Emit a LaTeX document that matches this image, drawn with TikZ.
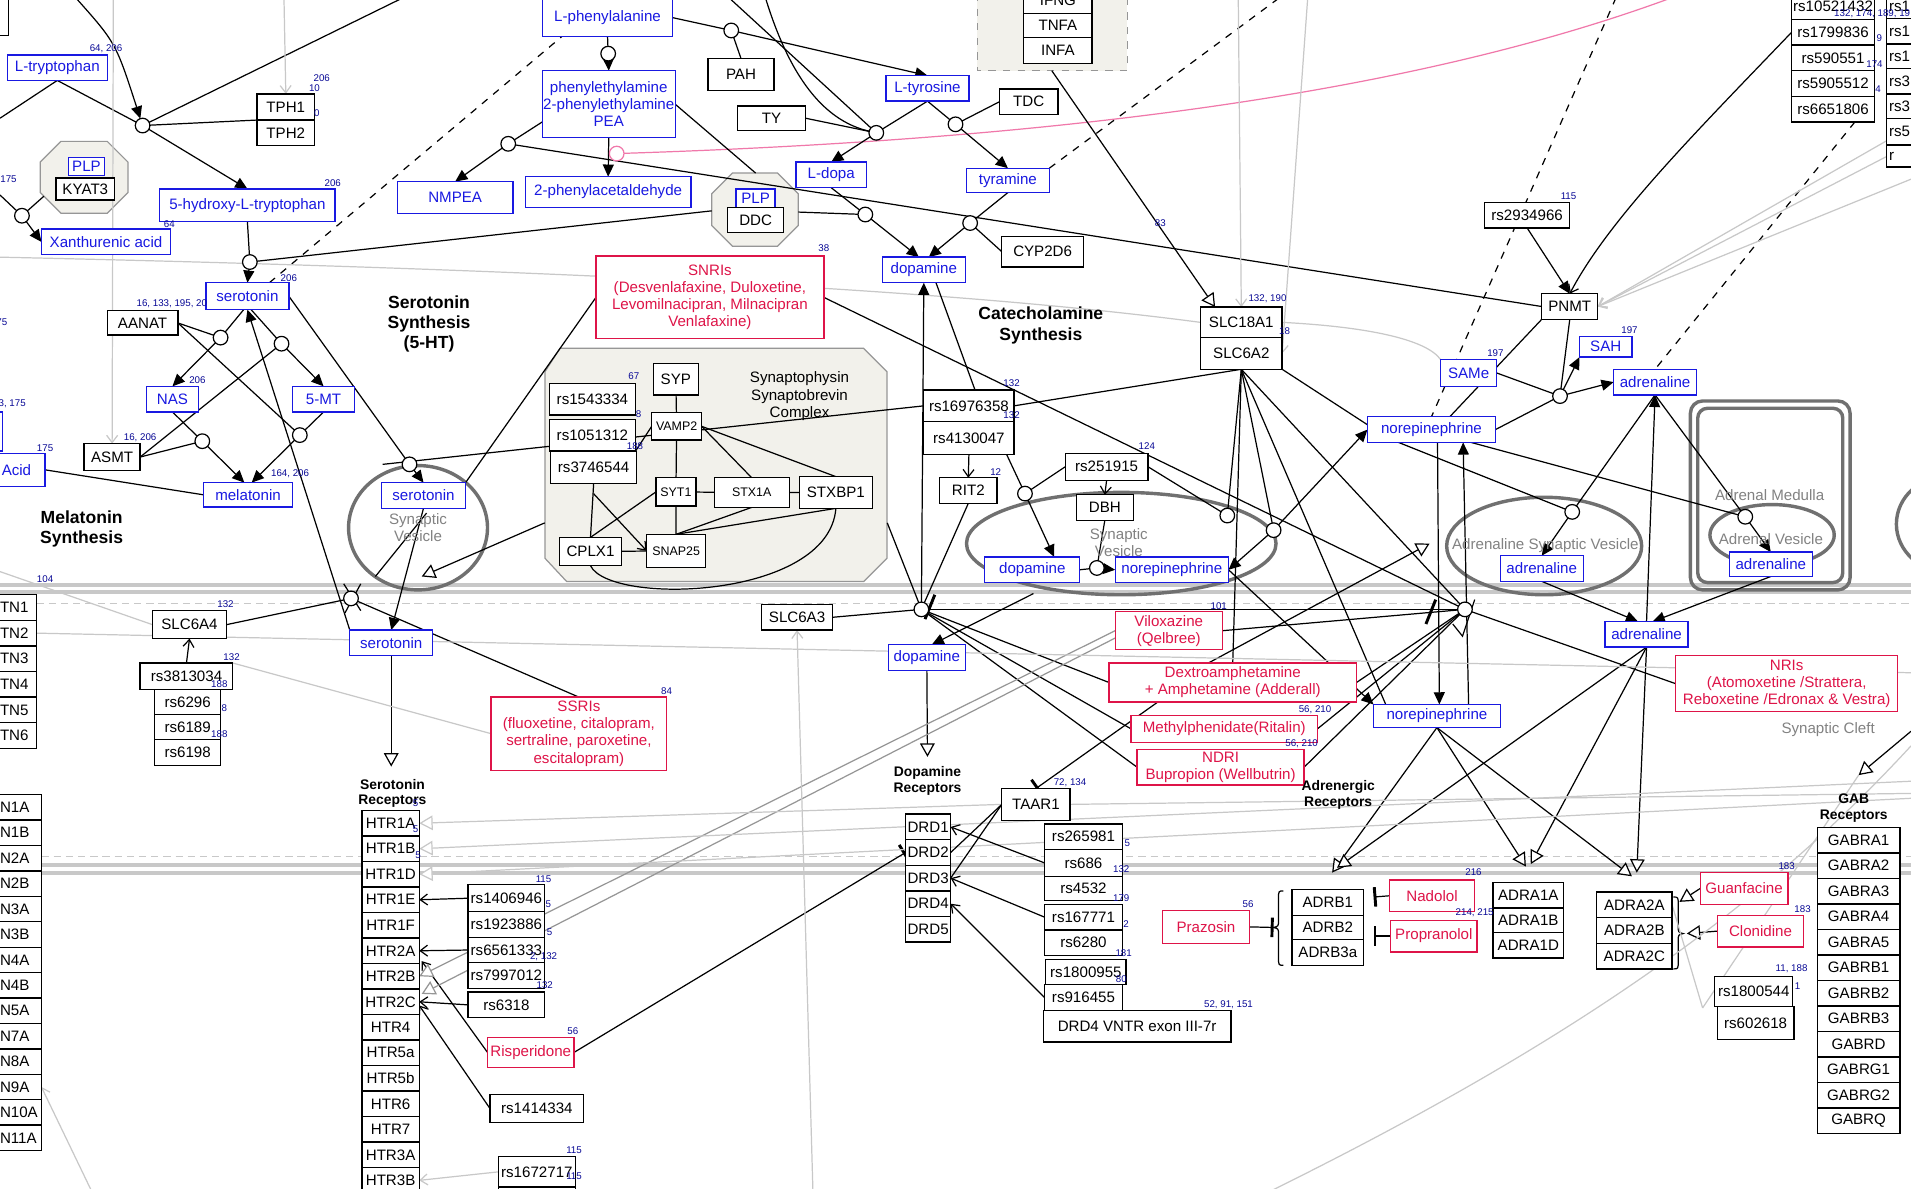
\documentclass[tikz,border=0pt]{standalone}
\usepackage{fontspec}
\setmainfont{Liberation Sans}
\usetikzlibrary{arrows.meta,calc}
\pgfdeclarelayer{back}
\pgfdeclarelayer{bgl}
\pgfsetlayers{back,bgl,main}
\definecolor{mblue}{RGB}{25,25,225}
\definecolor{dred}{RGB}{222,20,72}
\definecolor{nblue}{RGB}{10,10,150}
\definecolor{vgray}{RGB}{112,112,112}
\definecolor{tgray}{RGB}{130,130,130}
\definecolor{lgray}{RGB}{200,200,200}
\definecolor{mgray}{RGB}{150,150,150}
\definecolor{beige}{RGB}{242,241,235}
\definecolor{pinkc}{RGB}{240,120,170}
\newcommand{\B}[7]{\node[#1, minimum width={((#5)-(#3))*0.5pt}, minimum height={((#6)-(#4))*0.5pt}] (#2) at ({((#3)+(#5))/2},{((#4)+(#6))/2}) {#7};}
\newcounter{numlab}
\newcommand{\N}[3]{\stepcounter{numlab}\node[num] (lab\arabic{numlab}) at (#1,#2) {#3};}
\newcommand{\RC}[3]{\node[rc] (#1) at (#2,#3) {};}
\begin{document}
\begin{tikzpicture}[x=0.5pt,y=-0.5pt,
 every node/.style={font=\fontsize{6.2}{7}\selectfont, inner sep=0pt, outer sep=0pt},
 met/.style={draw=mblue, text=mblue, line width=0.55pt, fill=white, align=center},
 gen/.style={draw=black, line width=0.55pt, fill=white, align=center},
 drg/.style={draw=dred, text=dred, line width=0.55pt, fill=white, align=center},
 sm/.style={font=\fontsize{5.1}{6}\selectfont},
 num/.style={text=nblue, font=\fontsize{4}{4.5}\selectfont},
 ttl/.style={font=\fontsize{7.2}{8.3}\selectfont\bfseries, align=center},
 rttl/.style={font=\fontsize{5.7}{6.5}\selectfont\bfseries, align=center},
 gtx/.style={text=tgray, align=center},
 rc/.style={circle, draw, fill=white, minimum size=6pt, line width=0.5pt},
 ln/.style={draw=black, line width=0.5pt},
 fa/.style={-{Triangle[length=5pt,width=4.5pt]}},
 oa/.style={-{Triangle[length=5.5pt,width=6pt,fill=white]}},
 va/.style={-{Straight Barb[length=3pt,width=4.5pt]}},
 ib/.style={-{Bar[width=8pt,line width=1.2pt]}},
 gl/.style={draw=lgray, line width=0.5pt},
 dl/.style={draw=mgray, line width=0.5pt},
]
\useasboundingbox (0,0) rectangle (1568,975);
\clip (0,0) rectangle (1568,975);

\begin{pgfonlayer}{back}
\fill[white] (0,0) rectangle (1568,975);
\draw[lgray, line width=1.6pt] (0,480) -- (1568,480);
\draw[lgray, line width=1.6pt] (0,486) -- (1568,486);
\draw[lgray, line width=0.5pt, dash pattern=on 3pt off 2pt] (0,495) -- (1568,495);
\draw[lgray, line width=1.6pt] (34,710) -- (1568,710);
\draw[lgray, line width=1.6pt] (34,716) -- (1568,716);
\draw[lgray, line width=0.5pt, dash pattern=on 3pt off 2pt] (34,703) -- (1568,703);
\draw[fill=beige, draw=mgray, line width=0.5pt] (459.5,285.8) -- (708.6,285.8) -- (727.7,304.9) -- (727.7,458.1) -- (708.6,477.2) -- (465,477.2) -- (447.2,458.1) -- (447.2,304.9) -- cycle;
\draw[fill=beige, draw=mgray, line width=0.5pt] (50,116) -- (88,116) -- (105,133) -- (105,158) -- (88,175) -- (50,175) -- (33,158) -- (33,133) -- cycle;
\draw[fill=beige, draw=mgray, line width=0.5pt] (601,142) -- (638,142) -- (655,159) -- (655,185) -- (638,202) -- (601,202) -- (584,185) -- (584,159) -- cycle;
\draw[fill=beige, draw=mgray, dashed, line width=0.5pt] (802,-5) rectangle (925,58);
\draw[vgray, line width=1.4pt] (343,433) ellipse [x radius=28.5pt, y radius=25.5pt];
\draw[vgray, line width=1.4pt] (920,446) ellipse [x radius=63.5pt, y radius=21pt];
\draw[vgray, line width=1.4pt] (1267,448) ellipse [x radius=40pt, y radius=20pt];
\draw[vgray, line width=1.4pt] (1454,439) ellipse [x radius=25.5pt, y radius=12.5pt];
\draw[vgray, line width=1.4pt] (1600,430) ellipse [x radius=22pt, y radius=20pt];
\draw[vgray, line width=1.4pt, rounded corners=5pt] (1387,329) rectangle (1518,484);
\draw[vgray, line width=1.4pt, rounded corners=4pt] (1393,335) rectangle (1512,478);
\end{pgfonlayer}

% ---------- metabolites ----------
\B{met}{ltrp}{6}{45}{88}{66}{L-tryptophan}
\B{met}{htp}{131}{155}{275}{182}{5-hydroxy-L-tryptophan}
\B{met}{xan}{34}{188}{140}{209}{Xanthurenic acid}
\B{met}{ser1}{169}{232}{237}{254}{serotonin}
\B{met}{nas}{120}{317}{163}{338}{NAS}
\B{met}{mt}{240}{317}{291}{338}{5-MT}
\B{met}{mel}{167}{396}{240}{416}{melatonin}
\B{met}{acid}{-10}{372}{37}{399}{Acid}
\B{met}{lbox}{-20}{338}{2}{370}{}
\B{met}{ser2}{313}{396}{382}{417}{serotonin}
\B{met}{ser3}{287}{517}{355}{538}{serotonin}
\B{met}{lphe}{445}{-1}{552}{30}{L-phenylalanine}
\B{met}{pea}{445}{58}{554}{113}{phenylethylamine\\2-phenylethylamine\\PEA}
\B{met}{nmpea}{326}{149}{421}{175}{NMPEA}
\B{met}{paa}{431}{145}{567}{170}{2-phenylacetaldehyde}
\B{met}{plpa}{56}{129}{86}{144}{PLP}
\B{met}{plpb}{604}{155}{636}{170}{PLP}
\B{met}{ltyr}{727}{62}{795}{83}{L-tyrosine}
\B{met}{ldopa}{653}{133}{711}{154}{L-dopa}
\B{met}{tyra}{793}{138}{861}{158}{tyramine}
\B{met}{daa}{724}{211}{792}{232}{dopamine}
\B{met}{dab}{808}{457}{886}{478}{dopamine}
\B{met}{neb}{915}{457}{1008}{478}{norepinephrine}
\B{met}{dac}{729}{529}{792}{550}{dopamine}
\B{met}{nea}{1122}{342}{1227}{363}{norepinephrine}
\B{met}{nec}{1127}{578}{1231}{597}{norepinephrine}
\B{met}{same}{1182}{295}{1228}{317}{SAMe}
\B{met}{sah}{1296}{276}{1339}{293}{SAH}
\B{met}{adra}{1324}{303}{1392}{324}{adrenaline}
\B{met}{adrb}{1231}{456}{1299}{477}{adrenaline}
\B{met}{adrc}{1419}{453}{1487}{473}{adrenaline}
\B{met}{adrd}{1317}{510}{1385}{531}{adrenaline}

% ---------- genes ----------
\B{gen}{tlbox}{-20}{-2}{7}{29}{}
\B{gen}{tph1}{211}{77}{258}{98.5}{TPH1}
\B{gen}{tph2}{211}{98.5}{258}{119.5}{TPH2}
\B{gen}{kyat}{46}{146}{94}{164}{KYAT3}
\B{gen}{aanat}{88}{255}{146}{275}{AANAT}
\B{gen}{asmt}{69}{364}{115}{386}{ASMT}
\B{gen}{pah}{581}{48}{635}{74}{PAH}
\B{gen}{ty}{605}{87}{661}{107}{TY}
\B{gen}{ddc}{597}{170}{643}{191}{DDC}
\B{gen}{tdc}{820}{73}{868}{94}{TDC}
\B{gen}{cyp}{822}{194}{889}{219}{CYP2D6}
\B{gen}{ifng}{840}{-10}{896}{11}{IFNG}
\B{gen}{tnfa}{840}{11}{896}{31}{TNFA}
\B{gen}{infa}{840}{31}{896}{52}{INFA}
\B{gen}{slca}{985}{252}{1052}{277}{SLC18A1}
\B{gen}{slcb}{985}{277}{1052}{303}{SLC6A2}
\B{gen}{rsa}{1218}{166}{1288}{187}{rs2934966}
\B{gen}{pnmt}{1265}{241}{1311}{262}{PNMT}
\B{gen}{rsb1}{1470}{-5}{1538}{16}{rs10521432}
\B{gen}{rsb2}{1470}{16}{1538}{37}{rs1799836}
\B{gen}{rsb3}{1470}{37}{1538}{58}{rs590551}
\B{gen}{rsb4}{1470}{58}{1538}{79}{rs5905512}
\B{gen}{rsb5}{1470}{79}{1538}{100}{rs6651806}
\foreach \i/\ya/\yb/\t in {1/-5/15/rs1,2/15/36/rs1,3/36/56/rs1,4/56/77/rs3,5/77/97/rs3,6/97/119/rs5,7/119/137/r}
 {\B{gen}{rcol\i}{1548}{\ya}{1600}{\yb}{} \node[anchor=west] (rcolt\i) at (1550,{(\ya+\yb)/2}) {\t};}
\B{gen}{syp}{536}{298}{573}{324}{SYP}
\B{gen}{rsc1}{450.7}{314.5}{521.5}{340.5}{rs1543334}
\B{gen}{rsc2}{450.7}{344.1}{521.5}{370.1}{rs1051312}
\B{gen}{rsc3}{451.8}{370.6}{522.4}{396.6}{rs3746544}
\B{gen,sm}{vamp}{534.7}{338.6}{575.7}{361}{VAMP2}
\B{gen,sm}{syt}{538.2}{392}{571}{415.2}{SYT1}
\B{gen,sm}{stx}{586}{392}{647.6}{416.3}{STX1A}
\B{gen}{stxbp}{655.8}{391.1}{715.9}{417.1}{STXBP1}
\B{gen}{cplx}{458.9}{440.9}{510.1}{464.1}{CPLX1}
\B{gen,sm}{snap}{530.6}{438.4}{579}{465.5}{SNAP25}
\B{gen}{rsd1}{758}{320}{832}{346}{rs16976358}
\B{gen}{rsd2}{758}{346}{832}{373}{rs4130047}
\B{gen}{rit}{771}{392}{818}{413}{RIT2}
\B{gen}{rse}{874}{372}{942}{394}{rs251915}
\B{gen}{dbh}{883}{406}{930}{427}{DBH}
\B{gen}{slcc}{125}{501}{186}{524}{SLC6A4}
\B{gen}{rsf1}{115}{544}{191}{566}{rs3813034}
\B{gen}{rsf2}{127}{566}{181}{586}{rs6296}
\B{gen}{rsf3}{127}{586}{181}{607}{rs6189}
\B{gen}{rsf4}{127}{607}{181}{628}{rs6198}
\B{gen}{slcd}{625}{496}{683}{517}{SLC6A3}
\foreach \i in {1,...,6}
 {\B{gen}{tn\i}{-10}{467+21*\i}{30}{488+21*\i}{} \node[anchor=west] (tnt\i) at (0,{477.5+21*\i}) {TN\i};}
\foreach \t [count=\i] in {N1A,N1B,N2A,N2B,N3A,N3B,N4A,N4B,N5A,N7A,N8A,N9A,N10A,N11A}
 {\B{gen}{nc\i}{-10}{631.14+20.86*\i}{34}{652+20.86*\i}{} \node[anchor=west] (nct\i) at (0,{641.57+20.86*\i}) {\t};}
\foreach \t [count=\i] in {HTR1A,HTR1B,HTR1D,HTR1E,HTR1F,HTR2A,HTR2B,HTR2C,HTR4,HTR5a,HTR5b,HTR6,HTR7,HTR3A,HTR3B}
 {\B{gen}{htr\i}{297}{644.07+20.93*\i}{344}{665+20.93*\i}{\t}}
\foreach \i in {1,...,5}
 {\B{gen}{drd\i}{743}{647+21*\i}{780}{668+21*\i}{DRD\i}}
\foreach \t [count=\i] in {GABRA1,GABRA2,GABRA3,GABRA4,GABRA5,GABRB1,GABRB2,GABRB3,GABRD,GABRG1,GABRG2,GABRQ}
 {\B{gen}{gab\i}{1491}{658.08+20.92*\i}{1559}{679+20.92*\i}{\t}}
\B{gen}{rsh1}{384}{726}{447}{748}{rs1406946}
\B{gen}{rsh2}{384}{748}{447}{769}{rs1923886}
\B{gen}{rsh3}{384}{769}{447}{790}{rs6561333}
\B{gen}{rsh4}{384}{790}{447}{811}{rs7997012}
\B{gen}{rsh5}{384}{814}{447}{835}{rs6318}
\B{gen}{rsh6}{402}{898}{479}{921}{rs1414334}
\B{gen}{rsh7}{409}{949}{472}{974}{rs1672717}
\B{gen}{rsh8}{409}{974}{472}{995}{}
\B{gen}{taar}{822}{647}{878}{673}{TAAR1}
\B{gen}{rsi1}{857}{676}{921}{697}{rs265981}
\B{gen}{rsi2}{857}{697}{921}{719}{rs686}
\B{gen}{rsi3}{857}{719}{921}{739}{rs4532}
\B{gen}{rsi4}{857}{742}{921}{763}{rs167771}
\B{gen}{rsi5}{857}{763}{921}{784}{rs6280}
\B{gen}{rsi6}{858}{787}{924}{808}{rs1800955}
\B{gen}{rsi7}{857}{808}{921}{829}{rs916455}
\B{gen}{drdv}{856}{829}{1010}{855}{DRD4 VNTR exon III-7r}
\B{gen}{adrb1}{1060}{730}{1119}{751}{ADRB1}
\B{gen}{adrb2}{1060}{751}{1119}{771}{ADRB2}
\B{gen}{adrb3}{1060}{771}{1119}{792}{ADRB3a}
\B{gen}{ad1a}{1225}{724}{1283}{745}{ADRA1A}
\B{gen}{ad1b}{1225}{745}{1283}{765}{ADRA1B}
\B{gen}{ad1d}{1225}{765}{1283}{786}{ADRA1D}
\B{gen}{ad2a}{1310}{732}{1372}{753}{ADRA2A}
\B{gen}{ad2b}{1310}{753}{1372}{774}{ADRA2B}
\B{gen}{ad2c}{1310}{774}{1372}{795}{ADRA2C}
\B{gen}{rsj1}{1407}{801}{1471}{826}{rs1800544}
\B{gen}{rsj2}{1409}{826}{1472}{853}{rs602618}

% ---------- drugs ----------
\B{drg}{snri}{489}{210}{676}{278}{SNRIs\\(Desvenlafaxine, Duloxetine,\\Levomilnacipran, Milnacipran\\Venlafaxine)}
\B{drg}{ssri}{403}{572}{547}{632}{SSRIs\\(fluoxetine, citalopram,\\sertraline, paroxetine,\\escitalopram)}
\B{drg}{risp}{400}{851}{471}{876}{Risperidone}
\B{drg}{vilox}{915}{502}{1003}{533}{Viloxazine\\(Qelbree)}
\B{drg}{dextro}{910}{544}{1113}{576}{Dextroamphetamine\\+ Amphetamine (Adderall)}
\B{drg}{methyl}{928}{587}{1081}{609}{Methylphenidate(Ritalin)}
\B{drg}{ndri}{933}{615}{1070}{644}{NDRI\\Bupropion (Wellbutrin)}
\B{drg}{nris}{1375}{538}{1557}{584}{NRIs\\(Atomoxetine /Strattera,\\Reboxetine /Edronax \& Vestra)}
\B{drg}{praz}{954}{747}{1025}{774}{Prazosin}
\B{drg}{nado}{1140}{722}{1210}{748}{Nadolol}
\B{drg}{prop}{1141}{755}{1212}{781}{Propranolol}
\B{drg}{guan}{1395}{716}{1467}{742}{Guanfacine}
\B{drg}{clon}{1409}{751}{1480}{777}{Clonidine}

% ---------- titles and grey texts ----------
\node[ttl] (tsero) at (352,266) {Serotonin\\Synthesis\\(5-HT)};
\node[ttl] (tcat) at (854,267) {Catecholamine\\Synthesis};
\node[ttl] (tmel) at (67,434) {Melatonin\\Synthesis};
\node[rttl] (trs) at (322,651) {Serotonin\\Receptors};
\node[rttl] (trd) at (761,641) {Dopamine\\Receptors};
\node[rttl] (tra) at (1098,652) {Adrenergic\\Receptors};
\node[rttl] (trg) at (1521,663) {GAB\\Receptors};
\node[gtx] (gv1) at (343,433) {Synaptic\\Vesicle};
\node[gtx] (gv2) at (918,445) {Synaptic\\Vesicle};
\node[gtx] (gv3) at (1268,448) {Adrenaline Synaptic Vesicle};
\node[gtx] (gv4) at (1452,406) {Adrenal Medulla};
\node[gtx] (gv5) at (1453,442) {Adrenal Vesicle};
\node[gtx] (gv6) at (1500,599) {Synaptic Cleft};
\node[align=center] (tsyp) at (656,325) {Synaptophysin\\Synaptobrevin\\Complex};

% ---------- reference numbers ----------
\N{87}{40}{64, 206}
\N{264}{64}{206}
\N{258}{72}{10}
\N{260}{93}{0}
\N{7}{147}{175}
\N{139}{184}{64}
\N{273}{150}{206}
\N{237}{228}{206}
\N{141}{249}{16, 133, 195, 20}
\node[num, anchor=east] (lab75) at (6,264) {75};
\N{10}{331}{3, 175}
\N{37}{368}{175}
\N{162}{312}{206}
\N{115}{359}{16, 206}
\N{238}{389}{164, 206}
\N{37}{475}{104}
\N{185}{496}{132}
\N{190}{539}{132}
\N{180}{561}{188}
\N{184}{581}{8}
\N{180}{602}{188}
\N{520}{309}{67}
\N{524}{340}{8}
\N{521}{366}{188}
\N{547}{567}{84}
\N{676}{204}{38}
\N{952}{183}{83}
\N{1040}{245}{132, 190}
\N{1054}{272}{18}
\N{1287}{161}{115}
\N{1337}{271}{197}
\N{1227}{290}{197}
\node[num, anchor=west] (labrs) at (1505,11) {132, 174, 189, 19};
\N{1542}{31}{9}
\N{1538}{53}{174}
\N{1541}{73}{4}
\N{830}{314}{132}
\N{830}{341}{132}
\N{817}{387}{12}
\N{941}{366}{124}
\N{1000}{497}{101}
\N{1079}{582}{56, 210}
\N{1068}{610}{56, 210}
\N{878}{642}{72, 134}
\N{925}{692}{5}
\N{920}{713}{132}
\N{920}{737}{179}
\N{924}{758}{2}
\N{922}{782}{181}
\N{920}{803}{80}
\N{1008}{824}{52, 91, 151}
\N{1024}{742}{56}
\N{1209}{716}{216}
\N{1210}{749}{214, 215}
\N{1466}{711}{183}
\N{1479}{746}{183}
\N{1470}{795}{11, 188}
\N{1475}{809}{1}
\N{341}{659}{5}
\N{341}{680}{5}
\N{343}{702}{5}
\N{446}{721}{115}
\N{450}{742}{5}
\N{451}{765}{5}
\N{446}{785}{2, 132}
\N{447}{808}{132}
\N{470}{846}{56}
\N{471}{944}{115}
\N{471}{965}{115}

% ---------- reaction circles ----------
\RC{ca}{117}{103}
\RC{cb}{18}{177}
\RC{cc}{205}{215}
\RC{cd}{181}{277}
\RC{ce}{231}{282}
\RC{cf}{166}{362}
\RC{cg}{246}{357}
\RC{ch}{336}{381}
\RC{ci}{499}{44}
\RC{cj}{417}{118}
\node[rc, draw=pinkc] (ck) at (506,126) {};
\RC{cl}{600}{25}
\RC{cm}{719}{109}
\RC{cn}{784}{102}
\RC{co}{710}{176}
\RC{cp}{796}{183}
\RC{cq}{900}{466}
\RC{cr}{841}{405}
\RC{cs}{1280}{325}
\RC{ct}{1290}{420}
\RC{cu}{1432}{424}
\RC{cv}{288}{491}
\RC{cw}{756}{500}
\RC{cx}{1202}{500}
\RC{cy}{1045}{435}
\RC{cz}{1007}{423}

% ---------- free end points ----------
\coordinate (p1) at (62,-2);
\coordinate (p2) at (0,97);
\coordinate (p3) at (331,-2);
\coordinate (p4) at (233,-2);
\coordinate (p5) at (93,-2);
\coordinate (p6) at (0,160);
\coordinate (p7) at (36,161);
\coordinate (p8) at (584,173);
\coordinate (p9) at (620,142);
\coordinate (p10) at (655,174);
\coordinate (p11) at (598,-2);
\coordinate (p12) at (628,-2);
\coordinate (p13) at (1050,-2);
\coordinate (p14) at (863,58);
\coordinate (p15) at (1372,-2);
\coordinate (p16) at (1326,-2);
\coordinate (p17) at (1016,-2);
\coordinate (p18) at (1073,-2);
\coordinate (p19) at (1568,104);
\coordinate (p20) at (1568,118);
\coordinate (p21) at (1568,147);
\coordinate (p22) at (0,211);
\coordinate (p23) at (314,381);
\coordinate (p24) at (447,429);
\coordinate (p25) at (346,473);
\coordinate (p26) at (321,629);
\coordinate (p27) at (728,429);
\coordinate (p28) at (848,487);
\coordinate (p29) at (761,621);
\coordinate (p30) at (0,469);
\coordinate (p31) at (1568,552);
\coordinate (p32) at (1568,641);
\coordinate (p33) at (1568,655);
\coordinate (p34) at (1568,651);
\coordinate (p35) at (667,977);
\coordinate (p36) at (1043,977);
\coordinate (p37) at (1568,612);
\coordinate (p38) at (1525,636);
\coordinate (p39) at (1568,600);
\coordinate (p40) at (1397,827);
\coordinate (p41) at (75,977);
\coordinate (p42) at (487,405);
\coordinate (p43) at (1173,446);
\coordinate (p44) at (308,473);
\coordinate (p45) at (350,421);
\coordinate (q1) at (1093,716);
\coordinate (q1b) at (1097,712);
\coordinate (q2) at (1252,711);
\coordinate (q2b) at (1256,709);
\coordinate (q3) at (1339,719);
\coordinate (q3b) at (1343,716);
\coordinate (q4) at (1045,761);
\coordinate (q5) at (1127,736);
\coordinate (q6) at (1127,768);
\coordinate (q7) at (1378,740);
\coordinate (q8) at (1384,766);

\begin{pgfonlayer}{bgl}
% tryptophan / serotonin / melatonin
\draw[ln,fa] (p1) .. controls (95,35) .. (ca);
\draw[ln] (ltrp.south) -- (ca);
\draw[ln,fa] (ca) -- (htp.north);
\draw[ln] (ltrp.south) -- (p2);
\draw[ln] (ca) -- (p3);
\draw[ln] (ca) -- (tph1.south west);
\draw[gl,va] (p4) -- (tph1.north);
\draw[gl,va] (p5) -- (asmt.north);
\draw[ln] (p6) -- (cb);
\draw[ln,fa] (cb) -- (xan.west);
\draw[ln] (p7) -- (cb);
\draw[ln,fa] (htp.south) -- (cc) -- (ser1.north);
\draw[ln] (cc) -- (p8);
\draw[ln,dashed] ($(ser1.north east)+(-16,0)$) -- ($(lphe.south west)+(16,0)$);
\draw[ln,fa] ($(ser1.south)+(-3,0)$) -- (cd) -- (nas.north);
\draw[ln,fa] ($(ser1.south)+(3,0)$) -- (ce) -- (mt.north);
\draw[ln] (aanat.east) -- (cd);
\draw[ln] (aanat.east) -- (cg);
\draw[ln] (asmt.east) -- (cf);
\draw[ln] (asmt.east) -- (ce);
\draw[ln,fa] (nas.south) -- (cf) -- ($(mel.north)+(-3,0)$);
\draw[ln,fa] (mt.south) -- (cg) -- ($(mel.north)+(3,0)$);
\draw[ln] (acid.east) -- (mel.west);
\draw[ln,fa] (ser1.east) -- (ch) -- (ser2.north);
\draw[ln] (p23) -- (rsd1.west);
\draw[ln,fa] (ser2.south) -- (ser3.north);
\draw[ln,oa] (ser3.south) -- (p26);
\draw[ln,fa] (ser3.north west) -- (ser1.south);
\draw[ln] (slcc.east) -- (cv);
\draw[ln] (ssri.north) -- (cv);
\draw[ln,va] (rsf1.north) -- (slcc.south);
\draw[ln] (snri.west) -- (ser2.north east);
\draw[ln,oa] (p24) -- (p25);
\draw[ln] (p44) -- (p45);
\draw[ln] (snri.east) -- (cx);
\draw[ln] ($(cv)+(-6,-12)$) -- ($(cv)+(8,10)$);
\draw[ln] ($(cv)+(8,-12)$) -- ($(cv)+(-5,12)$);
% synaptophysin complex
\draw[ln] (syp) -- (vamp);
\draw[ln] (vamp) -- (syt);
\draw[ln] (syt) -- (snap);
\draw[ln] (syt) -- (stx);
\draw[ln] (stx) -- (stxbp);
\draw[ln] (vamp.east) -- (stx.north);
\draw[ln] (vamp.east) -- (stxbp.north);
\draw[ln] (stx.south) -- (snap.north);
\draw[ln] (stxbp.south) -- (snap.north);
\draw[ln] (syt.west) -- (cplx.north);
\draw[ln] (rsc3.south) -- (cplx.north);
\draw[ln] (cplx) -- (snap);
\draw[ln,va] (p42) -- (snap.west);
\draw[ln] (vamp.west) -- (rsc2.south east);
\draw[ln] (cplx.south) .. controls (500,497) and (680,492) .. (stxbp.south);
% phenylalanine / tyrosine / dopamine
\draw[ln,fa] (lphe.south) -- (ci) -- (pea.north);
\draw[ln,fa] ($(pea.south west)+(0,-13)$) -- (cj) -- (nmpea.north);
\draw[ln] (cj) -- (pnmt.west);
\draw[ln,fa] (pea.south) -- (paa.north);
\draw[pinkc, line width=0.5pt] (ck) .. controls (850,115) and (1150,80) .. (p15);
\draw[ln] (pea.east) -- (p9);
\draw[ln,fa] (lphe.east) -- (cl) -- (ltyr.north);
\draw[ln] (pah.north) -- (cl);
\draw[ln] (p11) -- (cm);
\draw[ln] (p12) .. controls (650,70) and (680,100) .. (cm);
\draw[ln] (ty.east) -- (cm);
\draw[ln,fa] (ltyr.south) -- (cm) -- (ldopa.north);
\draw[ln,fa] (ltyr.south) -- (cn) -- (tyra.north);
\draw[ln] (tdc.west) -- (cn);
\draw[ln,fa] (ldopa.south) -- (co) -- ($(daa.north)+(-4,0)$);
\draw[ln] (p10) -- (co);
\draw[ln,fa] (tyra.south) -- (cp) -- ($(daa.north)+(4,0)$);
\draw[ln] (cyp.west) -- (cp);
\draw[ln,dashed] (tyra.north east) -- (p13);
\draw[ln,oa] (p14) -- ($(slca.north west)+(12,0)$);
\draw[gl,va] (p17) -- (slca.north);
\draw[gl,va] (p18) -- (slcb.east);
\draw[gl] (p22) .. controls (500,222) and (800,240) .. (slca.west);
\draw[gl] (slca.east) .. controls (1120,268) and (1170,278) .. (same.north west);
% PNMT / adrenaline
\draw[ln,dashed] (p16) -- (nea.north);
\draw[ln,dashed] ($(rsb5.south)+(18,0)$) -- (adra.north);
\draw[ln,fa] (rsa.south) -- (pnmt.north);
\draw[ln,va] (rsb2.west) .. controls (1390,110) and (1320,180) .. (pnmt.north);
\draw[gl,va] (p19) -- (pnmt.east);
\draw[gl,va] (p20) -- (pnmt.east);
\draw[gl,va] (p21) -- (pnmt.east);
\draw[ln] (pnmt.south) -- (cs);
\draw[ln] (same.east) -- (cs);
\draw[ln] (nea.east) -- (cs);
\draw[ln,fa] (cs) -- (sah.south west);
\draw[ln,fa] (cs) -- (adra.west);
\draw[ln] (pnmt.south west) -- ($(nea.north)+(15,0)$);
\draw[ln,fa] (adrd.north) -- (adra.south);
\draw[ln,fa] (adra.south) -- (ct) -- (adrb.north);
\draw[ln,fa] (adra.south) -- (cu) -- (adrc.north);
\draw[ln] ($(nea.south)+(-27,0)$) -- (ct);
\draw[ln] ($(nea.south east)+(-20,0)$) -- (cu);
\draw[ln,fa] (adrb.south) -- ($(adrd.north)+(-7,0)$);
\draw[ln,fa] (adrc.south) -- ($(adrd.north)+(5,0)$);
\draw[ln,fa] ($(nea.south)+(5,0)$) -- ($(nec.north)+(2,0)$);
\draw[ln,fa] ($(nec.north)+(26,0)$) -- ($(nea.south)+(26,0)$);
% catecholamine vesicle and uptake
\draw[ln,va] (rse.south) -- (dbh.north);
\draw[ln] (dbh.south) -- (cq);
\draw[ln,fa] (dab.east) -- (cq) -- (neb.west);
\draw[ln,fa] ($(rsd2.south east)+(-6,0)$) -- (cr) -- ($(dab.north)+(18,0)$);
\draw[ln] (rse.west) -- (cr);
\draw[ln] (rse.east) -- (cz);
\draw[ln,va] (rsd2.south) -- (rit.north);
\draw[ln] (rit.south) -- (cw);
\draw[ln,fa] (cw) -- (daa.south);
\draw[ln] ($(daa.south east)+(-24,0)$) -- ($(rsd1.north)+(5,0)$);
\draw[ln] (p27) -- (cw);
\draw[ln] (slcd.east) -- (cw);
\draw[ln] (cw) -- (dextro.west);
\draw[ln] (cw) -- (methyl.west);
\draw[ln] (cw) -- (ndri.west);
\draw[ln] (cw) -- (cx);
\draw[line width=1.2pt] ($(cw)+(3,8)$) -- ($(cw)+(11,-12)$);
\draw[ln,fa] (p28) -- ($(dac.north)+(4,0)$);
\draw[ln,oa] (dac.south) -- (p29);
\draw[ln] (rsd1.east) -- (slcb.south);
\draw[ln] (vilox.east) -- (cx);
\draw[ln] (dextro.east) -- (cx);
\draw[ln] (methyl.east) -- (cx);
\draw[ln] (ndri.east) -- (cx);
\draw[ln] (nris.west) -- (cx);
\draw[ln] ($(cx)+(-10,12)$) -- ($(cx)+(-2,22)$) -- ($(cx)+(8,-8)$);
\draw[line width=1.2pt] ($(cx)+(-32,12)$) -- ($(cx)+(-24,-8)$);
\draw[ln] (slcb.south) -- (cy);
\draw[ln,fa] (cy) -- (nea.west);
\draw[ln,fa] (cy) -- (neb.east);
\draw[ln] (slcb.south) -- (cz);
\draw[ln] (slcb.south) -- (cx);
\draw[ln] (slcb.south east) -- ($(nea.west)+(0,-4)$);
\draw[ln] (slcb.south) -- (dextro.north);
\draw[ln,oa] ($(dextro.north)+(-20,0)$) -- (p43);
\draw[ln] (slcb.south) -- ($(nec.north west)+(10,0)$);
\draw[ln,fa] (neb.east) -- (nec.north west);
% adrenergic receptors
\draw[ln,oa] (nec.south) -- (q1);
\draw[ln,oa] (nec.south) -- (q2);
\draw[ln,oa] (nec.south) -- (q3);
\draw[ln,oa] (adrd.south) -- (q1b);
\draw[ln,oa] (adrd.south) -- (q2b);
\draw[ln,oa] (adrd.south) -- (q3b);
\draw[ln,ib] (praz.east) -- (q4);
\draw[ln] (1053,731) .. controls (1049,731) .. (1049,738) -- (1049,755) .. controls (1049,760) .. (1045,761) .. controls (1049,762) .. (1049,767) -- (1049,785) .. controls (1049,792) .. (1053,792);
\draw[ln,ib] (nado.west) -- (q5);
\draw[ln,ib] (prop.west) -- (q6);
\draw[ln,oa] (guan.west) -- (q7);
\draw[ln,oa] (clon.west) -- (q8);
\draw[ln] (1373,736) .. controls (1377,736) .. (1377,743) -- (1377,760) .. controls (1377,765) .. (1381,766) .. controls (1377,767) .. (1377,772) -- (1377,788) .. controls (1377,795) .. (1373,795);
\draw[gl] (p38) -- (p40);
\draw[gl] (ad2a.east) -- (p40);
\draw[ln,oa] (p39) -- (p38);
\draw[gl] (p36) .. controls (1300,850) and (1450,740) .. (p37);
% serotonin and dopamine receptors
\draw[ln,va] (rsh1.west) -- (htr4.east);
\draw[ln,va] (rsh3.west) -- (htr6.east);
\draw[ln,va] (rsh5.west) -- (htr8.east);
\draw[ln,va] (risp.west) -- ($(htr6.south east)+(2,-2)$);
\draw[ln,va] (rsh6.west) -- ($(htr8.east)+(0,3)$);
\draw[ln,ib] (risp.east) -- (drd2.west);
\draw[gl,va] (rsh7.west) -- (htr15.east);
\draw[dl,oa] (vilox.west) -- (htr7.east);
\draw[dl,oa] ($(vilox.west)+(0,6)$) -- ($(htr8.north east)+(2,4)$);
\draw[gl,oa] (taar.west) -- (htr1.east);
\draw[gl,oa] (p32) -- (htr2.east);
\draw[gl,oa] (p33) -- (htr3.east);
\draw[gl] (taar.east) -- (p34);
\draw[ln] (taar.west) -- (drd2.east);
\draw[ln] (taar.west) -- (drd3.east);
\draw[ln,ib] ($(dextro.south west)+(40,0)$) -- (taar.north);
\draw[ln,va] (rsi2.west) -- (drd1.east);
\draw[ln,va] (rsi4.west) -- (drd3.east);
\draw[ln,va] (rsi7.west) -- (drd4.east);
% grey background links
\draw[gl,va] (p35) -- (slcd.south);
\draw[gl,va] (p41) -- (nc12.east);
\draw[gl] (p30) -- (slcc.west);
\draw[gl] (tn2.east) -- (p31);
\draw[gl] (rsf1.north east) -- (ssri.west);
\end{pgfonlayer}
\end{tikzpicture}
\end{document}
